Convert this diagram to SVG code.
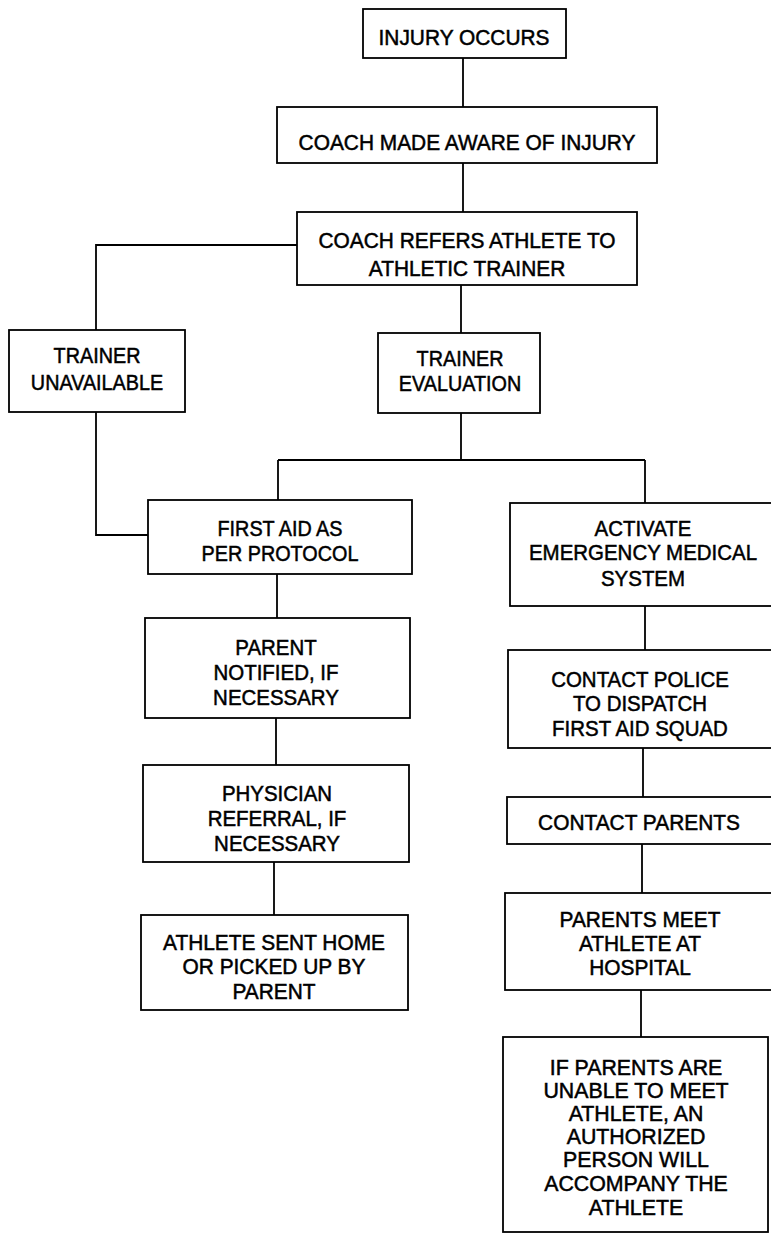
<svg xmlns="http://www.w3.org/2000/svg" width="771" height="1236" viewBox="0 0 771 1236">
<style>
.box{fill:#fff;stroke:#000;stroke-width:1.8}
.c{fill:none;stroke:#000;stroke-width:1.8}
text{font-family:"Liberation Sans",Arial,sans-serif;font-size:22px;fill:#000;stroke:#000;stroke-width:0.5;text-anchor:middle}
</style>
<rect width="771" height="1236" fill="#fff"/>
<g id="connectors">
<path class="c" d="M463 58V107M463 163V212M297 245H96V330M461 285V333M461 413V460M278 460H645M278 460V500M645 460V503M96 412V535H148M277 574V618M276 718V765M274 862V915M645 606V650M643 748V797M642 844V893M641 990V1037"/>
</g>
<g id="n1"><rect class="box" x="363" y="9" width="203" height="49"/><g transform="translate(464 0) scale(0.95 1)"><text x="0" y="45">INJURY OCCURS</text></g></g>
<g id="n2"><rect class="box" x="277" y="107" width="380" height="56"/><g transform="translate(467 0) scale(0.95 1)"><text x="0" y="150">COACH MADE AWARE OF INJURY</text></g></g>
<g id="n3"><rect class="box" x="297" y="212" width="340" height="73"/><g transform="translate(467 0) scale(0.95 1)"><text x="0" y="248">COACH REFERS ATHLETE TO</text><text x="0" y="276">ATHLETIC TRAINER</text></g></g>
<g id="n4"><rect class="box" x="9" y="330" width="176" height="82"/><g transform="translate(97 0) scale(0.9 1)"><text x="0" y="363">TRAINER</text><text x="0" y="390">UNAVAILABLE</text></g></g>
<g id="n5"><rect class="box" x="378" y="333" width="162" height="80"/><g transform="translate(460 0) scale(0.9 1)"><text x="0" y="366">TRAINER</text><text x="0" y="391">EVALUATION</text></g></g>
<g id="n6"><rect class="box" x="148" y="500" width="264" height="74"/><g transform="translate(280 0) scale(0.9 1)"><text x="0" y="536">FIRST AID AS</text><text x="0" y="561">PER PROTOCOL</text></g></g>
<g id="n7"><rect class="box" x="510" y="503" width="264" height="103"/><g transform="translate(643 0) scale(0.93 1)"><text x="0" y="536">ACTIVATE</text><text x="0" y="560">EMERGENCY MEDICAL</text><text x="0" y="586">SYSTEM</text></g></g>
<g id="n8"><rect class="box" x="145" y="618" width="265" height="100"/><g transform="translate(276 0) scale(0.93 1)"><text x="0" y="655">PARENT</text><text x="0" y="680">NOTIFIED, IF</text><text x="0" y="705">NECESSARY</text></g></g>
<g id="n9"><rect class="box" x="508" y="650" width="266" height="98"/><g transform="translate(640 0) scale(0.93 1)"><text x="0" y="687">CONTACT POLICE</text><text x="0" y="711">TO DISPATCH</text><text x="0" y="736">FIRST AID SQUAD</text></g></g>
<g id="n10"><rect class="box" x="143" y="765" width="266" height="97"/><g transform="translate(277 0) scale(0.93 1)"><text x="0" y="801">PHYSICIAN</text><text x="0" y="826">REFERRAL, IF</text><text x="0" y="851">NECESSARY</text></g></g>
<g id="n11"><rect class="box" x="507" y="797" width="267" height="47"/><g transform="translate(639 0) scale(0.95 1)"><text x="0" y="830">CONTACT PARENTS</text></g></g>
<g id="n12"><rect class="box" x="141" y="915" width="267" height="95"/><g transform="translate(274 0) scale(0.95 1)"><text x="0" y="950">ATHLETE SENT HOME</text><text x="0" y="974">OR PICKED UP BY</text><text x="0" y="999">PARENT</text></g></g>
<g id="n13"><rect class="box" x="505" y="893" width="269" height="97"/><g transform="translate(640 0) scale(0.95 1)"><text x="0" y="927">PARENTS MEET</text><text x="0" y="951">ATHLETE AT</text><text x="0" y="975">HOSPITAL</text></g></g>
<g id="n14"><rect class="box" x="503" y="1037" width="265" height="195"/><g transform="translate(636 0) scale(0.97 1)"><text x="0" y="1075">IF PARENTS ARE</text><text x="0" y="1098">UNABLE TO MEET</text><text x="0" y="1121">ATHLETE, AN</text><text x="0" y="1144">AUTHORIZED</text><text x="0" y="1167">PERSON WILL</text><text x="0" y="1191">ACCOMPANY THE</text><text x="0" y="1215">ATHLETE</text></g></g>
</svg>
